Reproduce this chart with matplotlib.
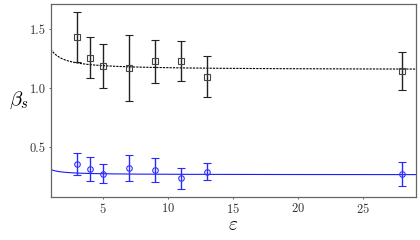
import numpy as np
import matplotlib
matplotlib.use("Agg")
import matplotlib.pyplot as plt

plt.rcParams['font.family'] = 'serif'
plt.rcParams['font.serif'] = ['cmr10']
plt.rcParams['mathtext.fontset'] = 'cm'
plt.rcParams['axes.formatter.use_mathtext'] = True

# datos
eps = [3, 4, 5, 7, 9, 11, 13, 28]
beta_neg = [1.43, 1.258, 1.188, 1.171, 1.225, 1.23, 1.096, 1.141]
err_neg = [0.21, 0.17, 0.185, 0.28, 0.18, 0.17, 0.175, 0.16]
beta_pos = [0.359, 0.317, 0.278, 0.325, 0.31, 0.238, 0.295, 0.272]
err_pos = [0.09, 0.105, 0.08, 0.11, 0.10, 0.09, 0.07, 0.10]

# ajuste a + b/eps
fit_neg = (1.155, 0.175)
fit_pos = (0.268, 0.044)

fig = plt.figure(figsize=(4.2, 2.4), dpi=100)
ax = fig.add_axes([0.121, 0.179, 0.869, 0.804])

x = np.linspace(1, 29.1, 300)
ax.plot(x, fit_neg[0] + fit_neg[1] / x, color='black', ls=(0, (2, 1)), lw=0.8)
ax.plot(x, fit_pos[0] + fit_pos[1] / x, color='#1a1aff', lw=0.8)

ax.errorbar(eps, beta_neg, yerr=err_neg, fmt='s', mfc='none', mec='#444444',
            ms=4, mew=0.8, ecolor='#222222', elinewidth=1, capsize=3.2, capthick=1)
ax.errorbar(eps, beta_pos, yerr=err_pos, fmt='o', mfc='none', mec='#3333ff',
            ms=4, mew=0.8, ecolor='#2a2aff', elinewidth=1, capsize=3.2, capthick=1)

ax.set_xlim(1, 29.1)
ax.set_ylim(0.08, 1.71)
ax.set_xticks([5, 10, 15, 20, 25])
ax.set_yticks([0.5, 1.0, 1.5])
ax.set_yticklabels(['0.5', '1.0', '1.5'])
ax.tick_params(labelsize=9, length=1.5, width=0.6, pad=2, colors='#555555', labelcolor='#333333')
for s in ax.spines.values():
    s.set_color('#666666')
    s.set_linewidth(0.9)

ax.set_xlabel(r'$\varepsilon$', fontsize=14, labelpad=0)
ax.set_ylabel(r'$\beta_s$', fontsize=15, rotation=0, labelpad=8, va='center')

fig.savefig('out.png', dpi=100)
